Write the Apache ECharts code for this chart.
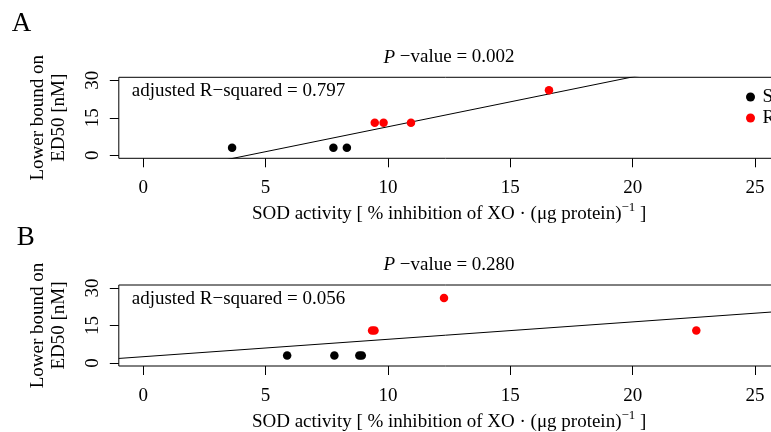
<!DOCTYPE html>
<html><head><meta charset="utf-8">
<script src="https://cdn.jsdelivr.net/npm/echarts@6/dist/echarts.min.js"></script>
<style>html,body{margin:0;padding:0;background:#fff}#c{width:771px;height:432px}</style>
</head><body><div id="c"></div>
<script>
// ---- data ----
const xTicks = [0, 5, 10, 15, 20, 25];
const yTicks = [0, 15, 30];
const xRange = [-1, 26];
const yRange = [-1.2, 31.2];
const seriesNames = ['S', 'R'];
// Panel A
const aSx = [3.63, 7.77, 8.32];
const aSy = [3, 3, 3];
const aRx = [9.46, 9.82, 10.94, 16.58];
const aRy = [13, 13, 13, 26];
const aFit = [-8.52, 1.994];   // intercept, slope
// Panel B
const bSx = [5.88, 7.81, 8.83, 8.93];
const bSy = [3, 3, 3, 3];
const bRx = [9.35, 9.45, 12.29, 22.6];
const bRy = [13, 13, 26, 13];
const bFit = [2.52, 0.696];    // intercept, slope
const panelLetters = ['A', 'B'];
const pValues = ['0.002', '0.280'];
const adjR2 = ['0.797', '0.056'];
const xTitle = 'SOD activity [ % inhibition of XO · (μg protein)';
const yTitle = 'Lower bound on\nED50 [nM]';

// ---- layout ----
const FF = 'Liberation Serif';
const FS = 19;
const tops = [77.3, 285];
const gridLeft = 118.8, gridW = 660.7, gridH = 81;

const zip = (xs, ys) => xs.map((x, i) => [x, ys[i]]);
const fitLine = f => xRange.map(x => [x, f[0] + f[1] * x]);

const grids = [], xAxes = [], yAxes = [], series = [], graphics = [];
const panels = [
  {sx: aSx, sy: aSy, rx: aRx, ry: aRy, fit: aFit},
  {sx: bSx, sy: bSy, rx: bRx, ry: bRy, fit: bFit}
];
panels.forEach((p, i) => {
  const top = tops[i];
  grids.push({left: gridLeft, top: top, width: gridW, height: gridH, show: true,
    borderColor: '#000', borderWidth: 1, backgroundColor: 'transparent',
    outerBoundsMode: 'none', containLabel: false});
  xAxes.push({type: 'value', gridIndex: i, min: xRange[0], max: xRange[1],
    axisLine: {show: false, onZero: false},
    axisTick: {show: true, length: 9, lineStyle: {color: '#000', width: 1}, customValues: xTicks},
    axisLabel: {customValues: xTicks, margin: 20.5, color: '#000', fontFamily: FF, fontSize: FS, lineHeight: 19},
    splitLine: {show: false},
    name: '{a|' + xTitle + '}{s|−1}{a| ]}', nameLocation: 'middle', nameGap: 43,
    nameTextStyle: {color: '#000', fontFamily: FF, fontSize: FS,
      rich: {a: {fontFamily: FF, fontSize: FS, color: '#000', lineHeight: 26, verticalAlign: 'middle'},
             s: {fontFamily: FF, fontSize: 13, color: '#000', lineHeight: 13, verticalAlign: 'top'}}}
  });
  yAxes.push({type: 'value', gridIndex: i, min: yRange[0], max: yRange[1],
    axisLine: {show: false, onZero: false},
    axisTick: {show: true, length: 9, lineStyle: {color: '#000', width: 1}, customValues: yTicks},
    axisLabel: {customValues: yTicks, rotate: 90, margin: 16.5, color: '#000', fontFamily: FF, fontSize: FS, lineHeight: 19},
    splitLine: {show: false},
    name: yTitle, nameLocation: 'middle', nameGap: 49,
    nameTextStyle: {color: '#000', fontFamily: FF, fontSize: FS, lineHeight: 21}
  });
  series.push({type: 'scatter', name: seriesNames[0], xAxisIndex: i, yAxisIndex: i,
    data: zip(p.sx, p.sy), symbol: 'circle', symbolSize: 8.5, itemStyle: {color: '#000', opacity: 1}, z: 3});
  series.push({type: 'scatter', name: seriesNames[1], xAxisIndex: i, yAxisIndex: i,
    data: zip(p.rx, p.ry), symbol: 'circle', symbolSize: 8.5, itemStyle: {color: '#ff0000', opacity: 1}, z: 3});
  series.push({type: 'line', name: 'fit' + i, xAxisIndex: i, yAxisIndex: i,
    data: fitLine(p.fit), showSymbol: false, symbol: 'none', clip: true, silent: true,
    lineStyle: {color: '#000', width: 1}, z: 2});

  const off = i === 0 ? 0 : 207.7;
  graphics.push({type: 'text', style: {text: panelLetters[i], x: i === 0 ? 11.7 : 16.7, y: i === 0 ? 24 : 237.5,
    fill: '#000', font: '27px "' + FF + '"', textAlign: 'left', textVerticalAlign: 'middle', align: 'left', verticalAlign: 'middle'}});
  graphics.push({type: 'text', style: {text: '{i|P} −value = ' + pValues[i], x: 449, y: 57.5 + off,
    fill: '#000', font: FS + 'px "' + FF + '"', textAlign: 'center', textVerticalAlign: 'middle', align: 'center', verticalAlign: 'middle',
    rich: {i: {fontStyle: 'italic', fontFamily: FF, fontSize: FS, fill: '#000'}}}});
  graphics.push({type: 'text', style: {text: 'adjusted R−squared = ' + adjR2[i], x: 131.7, y: 91.5 + off,
    fill: '#000', font: FS + 'px "' + FF + '"', textAlign: 'left', textVerticalAlign: 'middle', align: 'left', verticalAlign: 'middle'}});
});

const chart = echarts.init(document.getElementById('c'), null, {renderer: 'canvas'});
chart.setOption({
  animation: false,
  backgroundColor: '#fff',
  grid: grids, xAxis: xAxes, yAxis: yAxes, series: series,
  legend: {data: seriesNames, orient: 'vertical', left: 741, top: 82.5, itemWidth: 14, itemHeight: 9,
    itemGap: 2, icon: 'circle', selectedMode: false,
    itemStyle: {opacity: 1},
    textStyle: {color: '#000', fontFamily: FF, fontSize: FS, lineHeight: 19}},
  graphic: graphics
});
</script>
</body></html>
